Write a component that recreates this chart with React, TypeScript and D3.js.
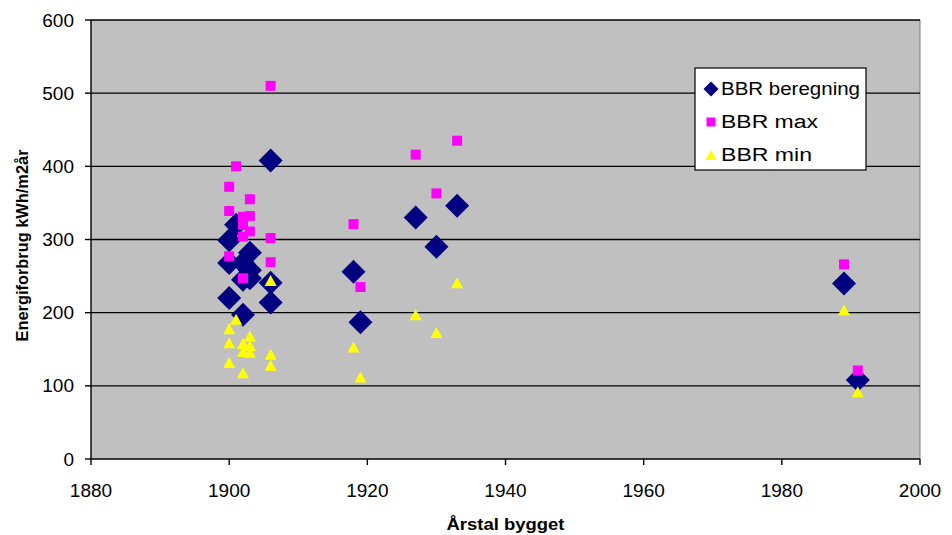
import * as d3 from 'd3';

// BBR beregning (diamonds)
const beregningYears = [1900, 1900, 1900, 1901, 1902, 1902, 1902, 1903, 1903, 1903, 1906, 1906, 1906, 1918, 1919, 1927, 1930, 1933, 1989, 1991];
const beregningValues = [299, 268, 220, 320, 268, 245, 197, 282, 258, 247, 408, 241, 214, 256, 187, 330, 290, 346, 240, 108];

// BBR max (squares)
const maxYears = [1900, 1900, 1900, 1901, 1902, 1902, 1902, 1902, 1903, 1903, 1903, 1906, 1906, 1906, 1918, 1919, 1927, 1930, 1933, 1989, 1991];
const maxValues = [372, 339, 277, 400, 331, 320, 304, 247, 355, 332, 311, 510, 302, 269, 321, 235, 416, 363, 435, 266, 121];

// BBR min (triangles)
const minYears = [1900, 1900, 1900, 1901, 1902, 1902, 1902, 1903, 1903, 1903, 1906, 1906, 1906, 1918, 1919, 1927, 1930, 1933, 1989, 1991];
const minValues = [178, 159, 132, 191, 158, 147, 118, 168, 155, 146, 244, 143, 128, 153, 112, 197, 173, 241, 204, 92];

const xTicks = [1880, 1900, 1920, 1940, 1960, 1980, 2000];
const yTicks = [0, 100, 200, 300, 400, 500, 600];

const seriesNames = ['BBR beregning', 'BBR max', 'BBR min'];
const legendWidths = [139, 97, 91];

const W = 952;
const H = 535;
const margin = { left: 91, right: 32, top: 20, bottom: 76 };

const font = '"Liberation Sans", Arial, sans-serif';

export default function App() {
  const x = d3.scaleLinear().domain([1880, 2000]).range([margin.left, W - margin.right]);
  const y = d3.scaleLinear().domain([0, 600]).range([H - margin.bottom, margin.top]);

  const diamond = (size: number) => {
    const h = size / 2;
    return `M0,${-h}L${h},0L0,${h}L${-h},0Z`;
  };
  const square = (size: number) => {
    const h = size / 2;
    return `M${-h},${-h}H${h}V${h}H${-h}Z`;
  };
  const triangle = (w: number, hgt: number) => `M0,${-hgt / 2}L${w / 2},${hgt / 2}L${-w / 2},${hgt / 2}Z`;

  const x0 = x(1880);
  const x1 = x(2000);
  const y0 = y(0);
  const y1 = y(600);

  const legendX = 695;
  const legendY = 68;
  const legendRows = [89, 122, 155];

  return (
    <svg
      width={W}
      height={H}
      style={{ position: 'absolute', left: 0, top: 0, background: '#fff' }}
      fontFamily={font}
    >
      {/* plot area */}
      <rect x={x0} y={y1} width={x1 - x0} height={y0 - y1} fill="#c0c0c0" />
      <line x1={x1} x2={x1} y1={y1} y2={y0} stroke="#808080" strokeWidth={1} />

      {/* gridlines */}
      {yTicks.filter((t) => t > 0).map((t) => (
        <line key={t} x1={x0} x2={x1} y1={y(t)} y2={y(t)} stroke="#000" strokeWidth={1.4} />
      ))}

      {/* axes */}
      <line x1={x0} x2={x0} y1={y1} y2={y0} stroke="#000" strokeWidth={1.4} />
      <line x1={x0} x2={x1} y1={y0} y2={y0} stroke="#000" strokeWidth={1.4} />

      {yTicks.map((t) => (
        <g key={t}>
          <line x1={x0 - 6} x2={x0} y1={y(t)} y2={y(t)} stroke="#000" strokeWidth={1.4} />
          <text x={x0 - 17} y={y(t)} dy="0.35em" textAnchor="end" fontSize={19} fill="#000">
            {t}
          </text>
        </g>
      ))}
      {xTicks.map((t) => (
        <g key={t}>
          <line x1={x(t)} x2={x(t)} y1={y0} y2={y0 + 6} stroke="#000" strokeWidth={1.4} />
          <text x={x(t)} y={y0 + 31} dy="0.35em" textAnchor="middle" fontSize={19} fill="#000">
            {t}
          </text>
        </g>
      ))}

      {/* axis titles */}
      <text
        x={(x0 + x1) / 2}
        y={530}
        textAnchor="middle"
        fontSize={16}
        fontWeight="bold"
        fill="#000"
        textLength={118}
        lengthAdjust="spacingAndGlyphs"
      >
        Årstal bygget
      </text>
      <text
        transform={`translate(28,${(y0 + y1) / 2 + 6}) rotate(-90)`}
        textAnchor="middle"
        fontSize={16}
        fontWeight="bold"
        fill="#000"
        textLength={192}
        lengthAdjust="spacingAndGlyphs"
      >
        Energiforbrug kWh/m2år
      </text>

      {/* series */}
      <g>
        {beregningYears.map((yr, i) => (
          <path key={i} d={diamond(24)} transform={`translate(${x(yr)},${y(beregningValues[i])})`} fill="#000080" />
        ))}
      </g>
      <g>
        {maxYears.map((yr, i) => (
          <path key={i} d={square(10)} transform={`translate(${x(yr)},${y(maxValues[i])})`} fill="#ff00ff" />
        ))}
      </g>
      <g>
        {minYears.map((yr, i) => (
          <path key={i} d={triangle(12, 11)} transform={`translate(${x(yr)},${y(minValues[i])})`} fill="#ffff00" />
        ))}
      </g>

      {/* legend */}
      <rect x={legendX} y={legendY} width={171} height={102} fill="#fff" stroke="#000" strokeWidth={1.2} />
      {seriesNames.map((name, i) => (
        <g key={name} transform={`translate(${legendX + 16},${legendRows[i]})`}>
          {i === 0 && <path d={diamond(15)} fill="#000080" />}
          {i === 1 && <path d={square(9)} fill="#ff00ff" />}
          {i === 2 && <path d={triangle(11, 10)} fill="#ffff00" />}
          <text
            x={10}
            dy="0.36em"
            fontSize={18}
            fill="#000"
            textLength={legendWidths[i]}
            lengthAdjust="spacingAndGlyphs"
          >
            {name}
          </text>
        </g>
      ))}
    </svg>
  );
}
